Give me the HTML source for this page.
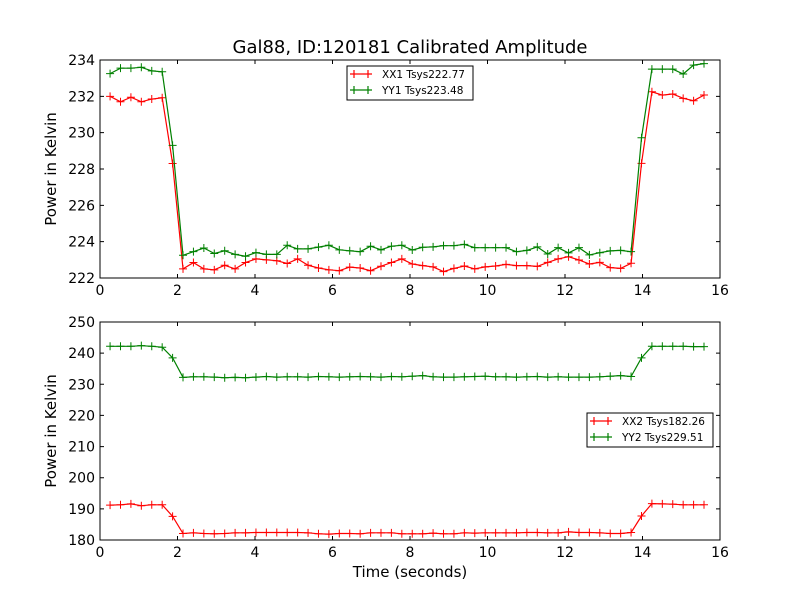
<!DOCTYPE html>
<html><head><meta charset="utf-8"><style>
html,body{margin:0;padding:0;background:#fff;}
svg{display:block;font-family:"DejaVu Sans","Liberation Sans",sans-serif;}
</style></head><body>
<svg id="chart" width="800" height="600" viewBox="0 0 800 600">
<rect width="800" height="600" fill="#fff"/>
<text x="410" y="53" text-anchor="middle" font-size="18">Gal88, ID:120181 Calibrated Amplitude</text>
<g id="top"></g>
<g id="bot"></g>
<text x="410" y="577" text-anchor="middle" font-size="15">Time (seconds)</text>
</svg>
<script>
const xTicks=[0,2,4,6,8,10,12,14,16];
const topYTicks=[222,224,226,228,230,232,234];
const botYTicks=[180,190,200,210,220,230,240,250];
const t0=0.26, dt=0.2689;
const xx1=[232.0,231.7,231.95,231.7,231.85,231.92,228.3,222.5,222.85,222.5,222.45,222.7,222.5,222.85,223.05,223.0,222.95,222.8,223.05,222.7,222.55,222.45,222.4,222.6,222.55,222.4,222.65,222.85,223.05,222.77,222.68,222.61,222.35,222.53,222.66,222.5,222.61,222.66,222.75,222.68,222.68,222.64,222.86,223.05,223.17,222.99,222.77,222.86,222.57,222.53,222.81,228.31,232.25,232.07,232.13,231.89,231.76,232.07];
const yy1=[233.25,233.55,233.55,233.6,233.4,233.35,229.3,223.25,223.45,223.65,223.35,223.5,223.3,223.2,223.4,223.3,223.3,223.8,223.6,223.6,223.7,223.8,223.55,223.5,223.45,223.75,223.55,223.75,223.8,223.54,223.69,223.71,223.78,223.78,223.85,223.67,223.67,223.67,223.67,223.45,223.52,223.71,223.32,223.67,223.38,223.67,223.27,223.39,223.49,223.52,223.45,229.72,233.5,233.5,233.5,233.23,233.72,233.8];
const xx2=[191.2,191.3,191.6,191.0,191.3,191.3,187.6,182.1,182.3,182.1,182.0,182.1,182.3,182.3,182.4,182.4,182.4,182.4,182.4,182.3,182.0,181.9,182.1,182.1,182.0,182.3,182.3,182.3,182.0,182.0,182.0,182.2,182.0,182.0,182.3,182.2,182.3,182.3,182.3,182.3,182.4,182.4,182.3,182.3,182.6,182.4,182.4,182.3,182.1,182.1,182.4,187.7,191.7,191.6,191.5,191.3,191.3,191.3];
const yy2=[242.2,242.2,242.2,242.4,242.2,241.9,238.5,232.2,232.4,232.4,232.3,232.1,232.2,232.1,232.3,232.5,232.3,232.4,232.4,232.3,232.5,232.4,232.3,232.4,232.5,232.4,232.3,232.5,232.4,232.6,232.8,232.4,232.3,232.3,232.4,232.5,232.6,232.4,232.4,232.3,232.4,232.5,232.3,232.4,232.3,232.3,232.3,232.4,232.6,232.8,232.5,238.5,242.2,242.2,242.2,242.2,242.1,242.1];
const NS="http://www.w3.org/2000/svg";
function mk(p,tag,at){const e=document.createElementNS(NS,tag);for(const k in at)e.setAttribute(k,at[k]);p.appendChild(e);return e;}
function panel(g,top,yTicks,series,leg){
  const L=100,W=620,H=218,ymin=yTicks[0],ymax=yTicks[yTicks.length-1];
  const xs=v=>L+v/16*W, ys=v=>top+H-(v-ymin)/(ymax-ymin)*H;
  for(const s of series){
    const pts=s.data.map((v,i)=>xs(t0+i*dt).toFixed(1)+","+ys(v).toFixed(1)).join(" ");
    const pl=mk(g,"polyline",{points:pts,fill:"none",stroke:s.color,"stroke-width":1.2});
    
    
    s.data.forEach((v,i)=>{const x=xs(t0+i*dt),y=ys(v);
      const m=mk(g,"path",{d:`M${x-4},${y}H${x+4}M${x},${y-4}V${y+4}`,stroke:s.color,"stroke-width":1});
      
      });
  }
  const fr=mk(g,"rect",{x:L,y:top,width:W,height:H,fill:"none",stroke:"#000","stroke-width":1});
  
  
  xTicks.forEach(v=>{const x=xs(v);
    mk(g,"path",{d:`M${x},${top+H}v-4M${x},${top}v4`,stroke:"#000"});
    const t=mk(g,"text",{x:x,y:top+H+17,"text-anchor":"middle","font-size":14});t.textContent=v;
    
    });
  yTicks.forEach(v=>{const y=ys(v);
    mk(g,"path",{d:`M${L},${y}h4M${L+W},${y}h-4`,stroke:"#000"});
    const t=mk(g,"text",{x:L-5,y:y+5,"text-anchor":"end","font-size":14});t.textContent=v;
    
    });
  const yl=mk(g,"text",{x:56,y:top+H/2,"text-anchor":"middle","font-size":15,transform:`rotate(-90 56 ${top+H/2})`});
  yl.textContent="Power in Kelvin";
  
  
  const lg=mk(g,"g",{});
  
  
  mk(lg,"rect",{x:leg[0],y:leg[1],width:126,height:34,fill:"#fff",stroke:"#000"});
  series.forEach((s,i)=>{const y=leg[1]+8+i*16;
    mk(lg,"path",{d:`M${leg[0]+3},${y}h22M${leg[0]+7},${y-4}v8M${leg[0]+21},${y-4}v8`,stroke:s.color,"stroke-width":1.2});
    const t=mk(lg,"text",{x:leg[0]+35,y:y+4,"font-size":10.5});t.textContent=s.label;
    
    });
}
panel(document.getElementById("top"),60,topYTicks,[{data:xx1,color:"#ff0000",name:"xx1",label:"XX1 Tsys222.77"},{data:yy1,color:"#008000",name:"yy1",label:"YY1 Tsys223.48"}],[347,66]);
panel(document.getElementById("bot"),322,botYTicks,[{data:xx2,color:"#ff0000",name:"xx2",label:"XX2 Tsys182.26"},{data:yy2,color:"#008000",name:"yy2",label:"YY2 Tsys229.51"}],[587,413]);
</script>
</body></html>
